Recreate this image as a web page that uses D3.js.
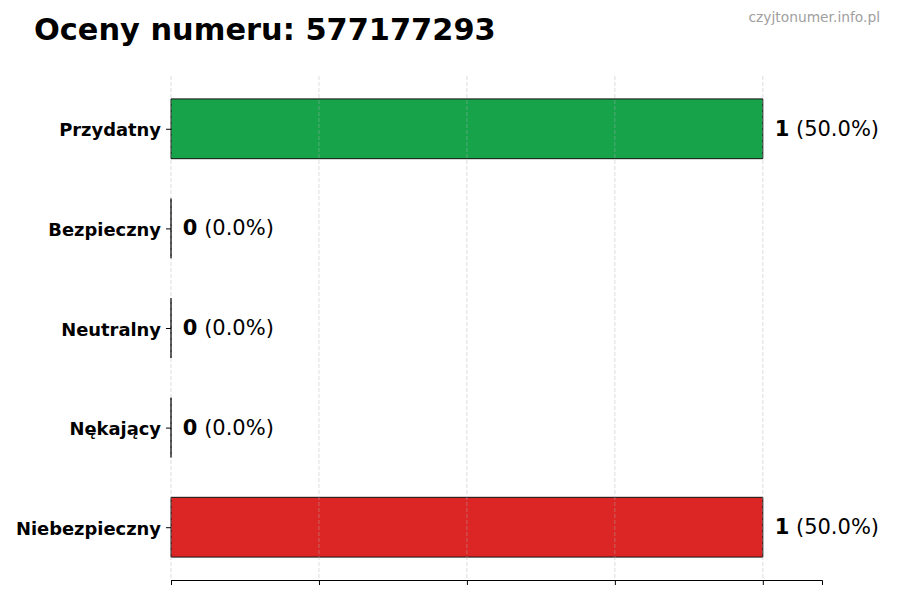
<!DOCTYPE html>
<html>
<head>
<meta charset="utf-8">
<script src="https://cdn.jsdelivr.net/npm/d3@7"></script>
<style>
  body { margin: 0; background: #fff; }
  svg { font-family: "DejaVu Sans", sans-serif; }
</style>
</head>
<body>
<div id="chart"></div>
<script>
"use strict";

// Chart data.
const categories = ["Przydatny", "Bezpieczny", "Neutralny", "Nękający", "Niebezpieczny"];
const counts = [1, 0, 0, 0, 1];
const percents = [50.0, 0.0, 0.0, 0.0, 50.0];
const barColors = ["#16a34a", "#9ca3af", "#6b7280", "#f59e0b", "#dc2626"];
const xTicks = [0, 0.25, 0.5, 0.75, 1.0];
const titleText = "Oceny numeru: 577177293";
const watermarkText = "czyjtonumer.info.pl";

const width = 900, height = 600;
const plotLeft = 171, plotRight = 822, plotTop = 76, plotBottom = 580;

const svg = d3.select("#chart").append("svg")
    .attr("width", width)
    .attr("height", height);

// x axis covers counts, y axis is category index (matplotlib style margins).
const x = d3.scaleLinear().domain([0, 1.1]).range([plotLeft, plotRight]);
const y = d3.scaleLinear().domain([-0.53, 4.53]).range([plotTop, plotBottom]);
const barHeight = 0.6;

// Bars as closed paths, so a zero-width bar still shows its edge.
function barPath(i) {
    let p = d3.path();
    let x0 = x(0), x1 = x(counts[i]);
    let y0 = y(i - barHeight / 2), y1 = y(i + barHeight / 2);
    p.moveTo(x0, y0);
    p.lineTo(x1, y0);
    p.lineTo(x1, y1);
    p.lineTo(x0, y1);
    p.closePath();
    return p.toString();
}

svg.append("g").selectAll("path")
    .data(categories)
    .enter().append("path")
    .attr("d", (d, i) => barPath(i))
    .attr("fill", (d, i) => barColors[i])
    .attr("stroke", "#111")
    .attr("stroke-width", 1);

// Dashed grid on top of the bars.
svg.append("g").selectAll("line")
    .data(xTicks)
    .enter().append("line")
    .attr("x1", d => x(d))
    .attr("x2", d => x(d))
    .attr("y1", plotTop)
    .attr("y2", plotBottom)
    .attr("stroke", "#b0b0b0")
    .attr("stroke-opacity", 0.55)
    .attr("stroke-width", 0.8)
    .attr("stroke-dasharray", "4,2");

// Bottom axis with ticks only.
const xAxis = svg.append("g")
    .attr("transform", "translate(0," + plotBottom + ")")
    .call(d3.axisBottom(x).tickValues(xTicks).tickFormat("").tickSizeOuter(0).tickSize(5));
xAxis.select(".domain").attr("stroke", "#000").attr("stroke-width", 1);
xAxis.selectAll(".tick line").attr("stroke", "#000");

// Left axis: tick marks and category labels, no spine.
const yAxis = svg.append("g")
    .attr("transform", "translate(" + plotLeft + ",0)")
    .call(d3.axisLeft(y).tickValues(d3.range(categories.length))
        .tickFormat(i => categories[i]).tickSize(5).tickPadding(5));
yAxis.select(".domain").remove();
yAxis.selectAll(".tick line").attr("stroke", "#000");
yAxis.selectAll(".tick text")
    .attr("fill", "#000")
    .attr("dy", "0.4em")
    .style("font-family", "DejaVu Sans")
    .style("font-size", "17.9px")
    .style("font-weight", "bold");

// Value labels.
const labels = svg.append("g").selectAll("text")
    .data(categories)
    .enter().append("text")
    .attr("x", (d, i) => x(counts[i] + 0.02))
    .attr("y", (d, i) => y(i))
    .attr("dy", "0.33em")
    .style("font-size", "21px")
    .attr("fill", "#000");
labels.append("tspan")
    .style("font-weight", "bold")
    .text((d, i) => counts[i]);
labels.append("tspan")
    .text((d, i) => " (" + percents[i].toFixed(1) + "%)");

// Title and watermark.
svg.append("text")
    .attr("x", 34)
    .attr("y", 40)
    .style("font-size", "30.4px")
    .style("font-weight", "bold")
    .attr("fill", "#000")
    .text(titleText);

svg.append("text")
    .attr("x", 880)
    .attr("y", 22)
    .style("text-anchor", "end")
    .style("font-size", "13.8px")
    .attr("fill", "#a0a0a0")
    .text(watermarkText);
</script>
</body>
</html>
